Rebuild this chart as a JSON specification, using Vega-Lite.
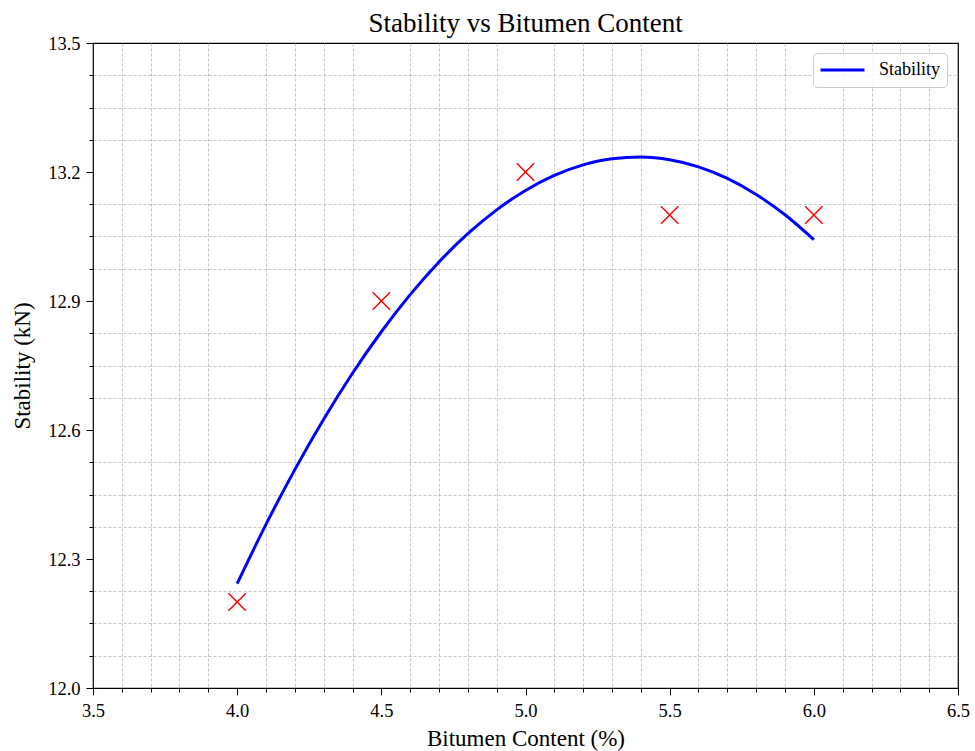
{
  "$schema": "https://vega.github.io/schema/vega-lite/v6.json",
  "width": 865,
  "height": 645,
  "autosize": {"type": "none"},
  "padding": {"left": 93, "top": 43, "right": 17, "bottom": 63},
  "background": "white",
  "title": {
    "text": "Stability vs Bitumen Content",
    "font": "Liberation Serif",
    "fontSize": 27,
    "fontWeight": "normal",
    "color": "black",
    "anchor": "middle",
    "offset": 8,
    "dy": 12
  },
  "config": {
    "view": {"stroke": "black", "strokeWidth": 1.2},
    "axis": {
      "labelFont": "Liberation Serif",
      "labelFontSize": 18.5,
      "labelColor": "black",
      "titleFont": "Liberation Serif",
      "titleFontSize": 23,
      "titleFontWeight": "normal",
      "titleColor": "black",
      "domain": false,
      "tickColor": "black",
      "tickWidth": 1,
      "grid": true,
      "gridColor": "#b0b0b0",
      "gridDash": [3, 2],
      "gridWidth": 0.8,
      "gridOpacity": 0.9,
      "labelOverlap": false
    },
    "legend": {
      "labelFont": "Liberation Serif",
      "labelFontSize": 18,
      "labelColor": "black"
    }
  },
  "datasets": {
    "fit": [
      {"x": 4.0, "y": 12.2428},
      {"x": 4.1, "y": 12.3805},
      {"x": 4.2, "y": 12.5079},
      {"x": 4.3, "y": 12.6251},
      {"x": 4.4, "y": 12.732},
      {"x": 4.5, "y": 12.8285},
      {"x": 4.6, "y": 12.9148},
      {"x": 4.7, "y": 12.9908},
      {"x": 4.8, "y": 13.0565},
      {"x": 4.9, "y": 13.112},
      {"x": 5.0, "y": 13.1571},
      {"x": 5.1, "y": 13.192},
      {"x": 5.2, "y": 13.2165},
      {"x": 5.3, "y": 13.2308},
      {"x": 5.4, "y": 13.2348},
      {"x": 5.5, "y": 13.2285},
      {"x": 5.6, "y": 13.212},
      {"x": 5.7, "y": 13.1851},
      {"x": 5.8, "y": 13.1479},
      {"x": 5.9, "y": 13.1005},
      {"x": 6.0, "y": 13.0428}
    ],
    "obs": [
      {"x": 4.0, "y": 12.2},
      {"x": 4.5, "y": 12.9},
      {"x": 5.0, "y": 13.2},
      {"x": 5.5, "y": 13.1},
      {"x": 6.0, "y": 13.1}
    ]
  },
  "resolve": {"axis": {"x": "independent", "y": "independent"}},
  "layer": [
    {
      "data": {"name": "fit"},
      "mark": {"type": "line", "strokeWidth": 3, "interpolate": "monotone"},
      "encoding": {
        "x": {
          "field": "x",
          "type": "quantitative",
          "scale": {"domain": [3.5, 6.5], "nice": false, "zero": false},
          "axis": {
            "orient": "bottom",
            "title": null,
            "labels": false,
            "values": [3.6, 3.7, 3.8, 3.9, 4.1, 4.2, 4.3, 4.4, 4.6, 4.7, 4.8, 4.9, 5.1, 5.2, 5.3, 5.4, 5.6, 5.7, 5.8, 5.9, 6.1, 6.2, 6.3, 6.4],
            "tickSize": 4
          }
        },
        "y": {
          "field": "y",
          "type": "quantitative",
          "scale": {"domain": [12.0, 13.5], "nice": false, "zero": false},
          "axis": {
            "orient": "left",
            "title": null,
            "labels": false,
            "values": [12.075, 12.15, 12.225, 12.375, 12.45, 12.525, 12.675, 12.75, 12.825, 12.975, 13.05, 13.125, 13.275, 13.35, 13.425],
            "tickSize": 4
          }
        },
        "color": {
          "datum": "Stability",
          "type": "nominal",
          "scale": {"domain": ["Stability"], "range": ["#0000ff"]},
          "legend": {
            "title": null,
            "orient": "none",
            "legendX": 720,
            "legendY": 10,
            "symbolType": "stroke",
            "symbolSize": 1936,
            "symbolStrokeWidth": 3,
            "clipHeight": 22,
            "labelOffset": 13,
            "padding": 6,
            "fillColor": "rgba(255,255,255,0.8)",
            "strokeColor": "#cccccc",
            "cornerRadius": 4
          }
        }
      }
    },
    {
      "data": {"name": "obs"},
      "mark": {
        "type": "point",
        "shape": "M-1,-1L1,1M-1,1L1,-1",
        "filled": false,
        "stroke": "#ff0000",
        "strokeWidth": 1.5,
        "size": 300,
        "opacity": 1
      },
      "encoding": {
        "x": {
          "field": "x",
          "type": "quantitative",
          "axis": {
            "orient": "bottom",
            "title": "Bitumen Content (%)",
            "values": [3.5, 4.0, 4.5, 5.0, 5.5, 6.0, 6.5],
            "format": ".1f",
            "tickSize": 7,
            "labelPadding": 6,
            "labelFlush": false,
            "gridOpacity": {"condition": {"test": "datum.value <= 3.51 || datum.value >= 6.49", "value": 0}, "value": 0.9},
            "titleBaseline": "alphabetic",
            "titleY": 57
          }
        },
        "y": {
          "field": "y",
          "type": "quantitative",
          "axis": {
            "orient": "left",
            "title": "Stability (kN)",
            "values": [12.0, 12.3, 12.6, 12.9, 13.2, 13.5],
            "format": ".1f",
            "tickSize": 7,
            "labelPadding": 6,
            "labelFlush": false,
            "gridOpacity": {"condition": {"test": "datum.value <= 12.01 || datum.value >= 13.49", "value": 0}, "value": 0.9},
            "titleBaseline": "alphabetic",
            "titleX": -64
          }
        }
      }
    }
  ]
}
